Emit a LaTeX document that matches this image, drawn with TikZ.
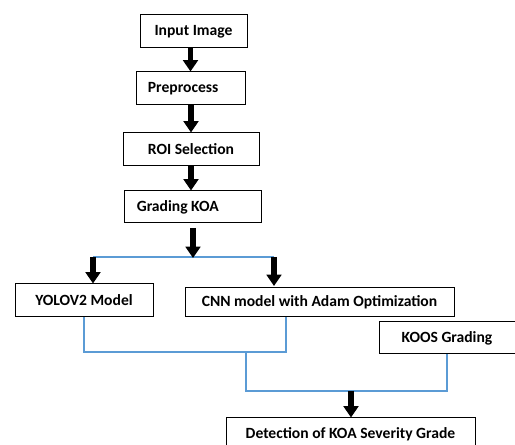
\documentclass[tikz,border=0pt]{standalone}
\usepackage{fontspec}
\setmainfont{Carlito}
\usetikzlibrary{arrows.meta}
\begin{document}
\begin{tikzpicture}[x=0.75pt,y=-0.75pt,
  box/.style={draw=black,line width=0.75pt,inner sep=0pt,font=\bfseries\fontsize{11.7}{13}\selectfont,fill=white},
  arr/.style={line width=4.2pt,-{Triangle[width=11pt,length=8.5pt]}},
  conn/.style={draw={rgb,255:red,91;green,155;blue,213},line width=0.8pt}]
\useasboundingbox (0,0) rectangle (515,445);
\clip (0,0) rectangle (515,445);
\node[box,minimum width=107*0.75pt,minimum height=33*0.75pt] (input) at (193.5,31.5) {Input Image};
\node[box,minimum width=109*0.75pt,minimum height=33*0.75pt] (pre) at (190.5,88.5) {Preprocess\kern11pt};
\node[box,minimum width=136*0.75pt,minimum height=33*0.75pt] (roi) at (191,149.5) {ROI Selection};
\node[box,minimum width=137*0.75pt,minimum height=32*0.75pt] (grade) at (192.5,207) {Grading KOA\kern22pt};
\node[box,minimum width=138*0.75pt,minimum height=33*0.75pt] (yolo) at (84,300.5) {YOLOV2 Model};
\node[box,minimum width=269*0.75pt,minimum height=29*0.75pt] (cnn) at (319.5,302.5) {CNN model with Adam Optimization};
\node[box,minimum width=136*0.75pt,minimum height=32*0.75pt] (koos) at (447,338) {KOOS Grading};
\node[box,minimum width=249*0.75pt,minimum height=33*0.75pt] (det) at (350.5,434.5) {Detection of KOA Severity Grade};
\coordinate (gtop) at (193,228);
\coordinate (split) at (193,258);
\coordinate (sl) at (93,257);
\coordinate (sr) at (274,257);
\coordinate (srend) at (274,286);
\coordinate (m2) at (286,352);
\coordinate (m3) at (246,352);
\coordinate (m4) at (447,391);
\coordinate (m5) at (351,391);
\draw[arr] (input.south -| pre) -- (pre.north);
\draw[arr] (pre.south -| roi) -- (roi.north);
\draw[arr] (roi.south) -- (grade.north -| roi);
\draw[conn] (sl) -- (sr);
\draw[arr] (gtop) -- (split);
\draw[arr] (sl) -- (sl |- yolo.north);
\draw[arr] (sr) -- (srend);
\draw[conn] (yolo.south) |- (m2) -- (m2 |- cnn.south);
\draw[conn] (m3) |- (m4) -- (koos.south);
\draw[arr] (m5) -- (m5 |- det.north);
\end{tikzpicture}
\end{document}
